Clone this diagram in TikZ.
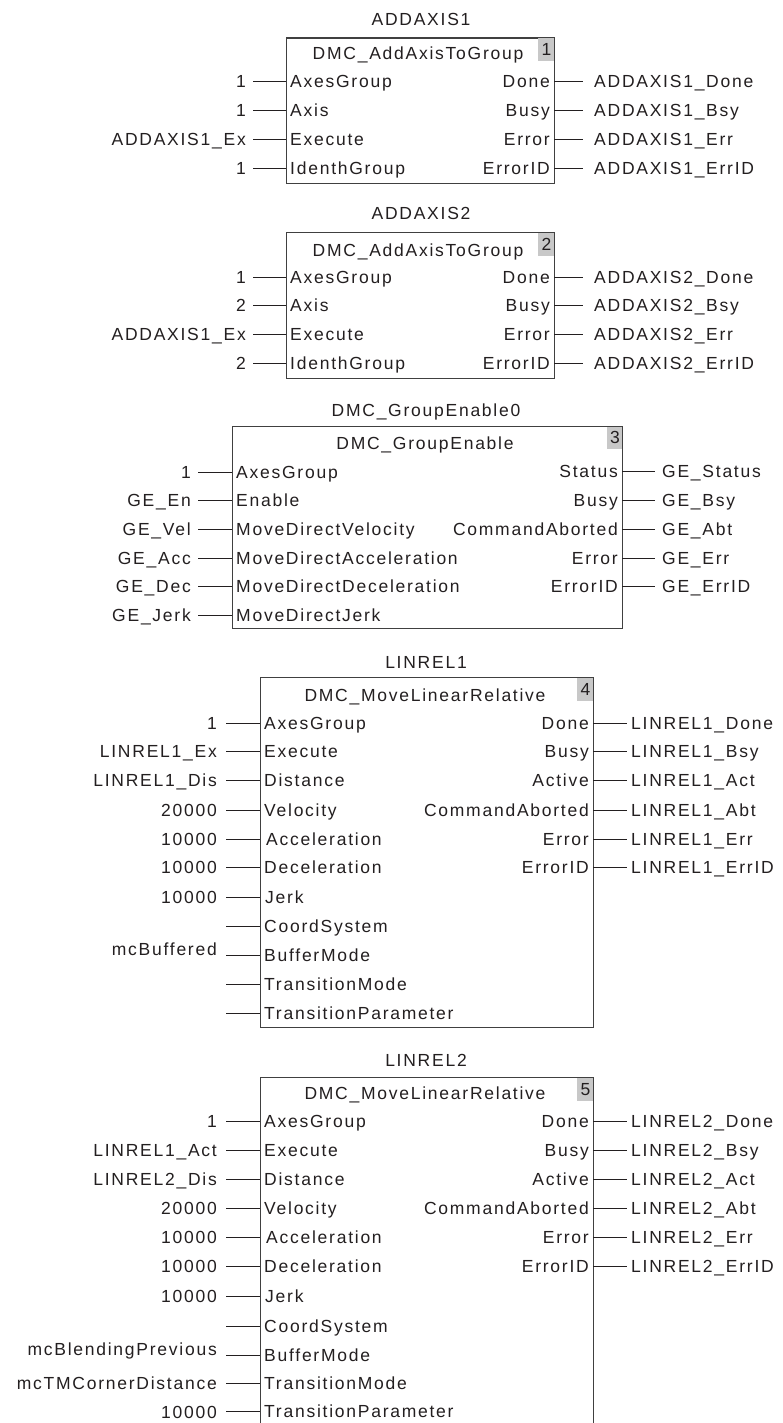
\documentclass[tikz,border=0pt]{standalone}
\usepackage{fontspec}
\newfontfamily\fbfam{Liberation Sans}[LetterSpace=10]
\newcommand\fbf{\fbfam\fontsize{17.5pt}{20pt}\selectfont}
\definecolor{ink}{RGB}{35,31,32}
\definecolor{edge}{RGB}{64,64,64}
\definecolor{numgray}{RGB}{200,200,200}
\tikzset{
 txt/.style={font=\fbf, text=ink, inner ysep=0pt, inner xsep=0pt, text height=12.5pt, text depth=0pt},
 pinL/.style={txt, inner xsep=4pt, anchor=west},
 pinR/.style={txt, inner xsep=4pt, anchor=east},
 extL/.style={txt, inner xsep=\gIn, anchor=east},
 extR/.style={txt, inner xsep=\gOut, anchor=west},
 wire/.style={draw=ink, line width=0.9pt},
 fbox/.style={draw=edge, line width=1.3pt, inner sep=0pt, anchor=north west},
 numbox/.style={fill=numgray, inner sep=0pt, minimum width=16pt, minimum height=23pt, font=\fbf, text=ink, anchor=north east},
}
\newcommand\fbIn[5]{%
 \node[pinL] (#1p) at (\bL,#2) {#3};
 \node[extL] (#1x) at (\xIn,#5) {#4};
 \draw[wire] (#1x.east |- #1p.west) -- (#1p.west);}
\newcommand\fbInE[3]{%
 \node[pinL] (#1p) at (\bL,#2) {#3};
 \coordinate (#1x) at (\xIn,#2);
 \draw[wire] (#1x) -- (#1p.west);}
\newcommand\fbOut[4]{%
 \node[pinR] (#1p) at (\bR,#2) {#3};
 \node[extR] (#1x) at (\xOut,#2) {#4};
 \draw[wire] (#1p.east) -- (#1x.west);}
\begin{document}
\begin{tikzpicture}[x=1pt,y=-1pt]
\useasboundingbox[fill=white] (0,0) rectangle (783,1423);
% ---------- Block 1
\def\bL{286}\def\bR{554}\def\xIn{253}\def\xOut{583}\def\gIn{7pt}\def\gOut{11pt}
\node[fbox, minimum width=268pt, minimum height=145.5pt] (A) at (286,37.5) {};
\node[numbox] (An) at ([xshift=-0.65pt,yshift=-0.65pt]A.north east) {1};
\node[txt] (At) at (421,19) {ADDAXIS1};
\node[txt] (Ah) at (418,53) {DMC\_AddAxisToGroup};
\fbIn{Ai1}{81}{AxesGroup}{1}{81}
\fbIn{Ai2}{110}{Axis}{1}{110}
\fbIn{Ai3}{139}{Execute}{ADDAXIS1\_Ex}{139}
\fbIn{Ai4}{168}{IdenthGroup}{1}{168}
\fbOut{Ao1}{81}{Done}{ADDAXIS1\_Done}
\fbOut{Ao2}{110}{Busy}{ADDAXIS1\_Bsy}
\fbOut{Ao3}{139}{Error}{ADDAXIS1\_Err}
\fbOut{Ao4}{168}{ErrorID}{ADDAXIS1\_ErrID}
% ---------- Block 2
\node[fbox, minimum width=268pt, minimum height=146pt] (B) at (286,232) {};
\node[numbox] (Bn) at ([xshift=-0.65pt,yshift=-0.65pt]B.north east) {2};
\node[txt] (Bt) at (421,213) {ADDAXIS2};
\node[txt] (Bh) at (418,250) {DMC\_AddAxisToGroup};
\fbIn{Bi1}{277}{AxesGroup}{1}{277}
\fbIn{Bi2}{305}{Axis}{2}{305}
\fbIn{Bi3}{334}{Execute}{ADDAXIS1\_Ex}{334}
\fbIn{Bi4}{363}{IdenthGroup}{2}{363}
\fbOut{Bo1}{277}{Done}{ADDAXIS2\_Done}
\fbOut{Bo2}{305}{Busy}{ADDAXIS2\_Bsy}
\fbOut{Bo3}{334}{Error}{ADDAXIS2\_Err}
\fbOut{Bo4}{363}{ErrorID}{ADDAXIS2\_ErrID}
% ---------- Block 3
\def\bL{232}\def\bR{622}\def\xIn{198}\def\xOut{655}\def\gIn{7pt}\def\gOut{7pt}
\node[fbox, minimum width=390pt, minimum height=202pt] (C) at (232,426) {};
\node[numbox, minimum width=15pt, minimum height=22pt] (Cn) at ([xshift=-0.65pt,yshift=-0.65pt]C.north east) {3};
\node[txt] (Ct) at (426,410) {DMC\_GroupEnable0};
\node[txt] (Ch) at (425,443) {DMC\_GroupEnable};
\fbIn{Ci1}{472}{AxesGroup}{1}{472}
\fbIn{Ci2}{500}{Enable}{GE\_En}{500}
\fbIn{Ci3}{529}{MoveDirectVelocity}{GE\_Vel}{529}
\fbIn{Ci4}{558}{MoveDirectAcceleration}{GE\_Acc}{558}
\fbIn{Ci5}{586}{MoveDirectDeceleration}{GE\_Dec}{586}
\fbIn{Ci6}{615}{MoveDirectJerk}{GE\_Jerk}{615}
\fbOut{Co1}{471}{Status}{GE\_Status}
\fbOut{Co2}{500}{Busy}{GE\_Bsy}
\fbOut{Co3}{529}{CommandAborted}{GE\_Abt}
\fbOut{Co4}{558}{Error}{GE\_Err}
\fbOut{Co5}{586}{ErrorID}{GE\_ErrID}
% ---------- Block 4
\def\bL{260}\def\bR{593}\def\xIn{226}\def\xOut{627}\def\gIn{9pt}\def\gOut{4pt}
\node[fbox, minimum width=333pt, minimum height=350pt] (D) at (260,677) {};
\node[numbox] (Dn) at ([xshift=-0.65pt,yshift=-0.65pt]D.north east) {4};
\node[txt] (Dt) at (426,662) {LINREL1};
\node[txt] (Dh) at (425,695) {DMC\_MoveLinearRelative};
\fbIn{Di1}{723}{AxesGroup}{1}{723}
\fbIn{Di2}{751}{Execute}{LINREL1\_Ex}{751}
\fbIn{Di3}{780}{Distance}{LINREL1\_Dis}{780}
\fbIn{Di4}{810}{Velocity}{20000}{810}
\fbIn{Di5}{839}{\hspace{2pt}Acceleration}{10000}{839}
\fbIn{Di6}{867}{Deceleration}{10000}{867}
\fbIn{Di7}{897}{\hspace{1pt}Jerk}{10000}{897}
\fbInE{Di8}{926}{CoordSystem}
\fbIn{Di9}{955}{BufferMode}{mcBuffered}{949}
\fbInE{Di10}{984}{TransitionMode}
\fbInE{Di11}{1013}{TransitionParameter}
\fbOut{Do1}{723}{Done}{LINREL1\_Done}
\fbOut{Do2}{751}{Busy}{LINREL1\_Bsy}
\fbOut{Do3}{780}{Active}{LINREL1\_Act}
\fbOut{Do4}{810}{CommandAborted}{LINREL1\_Abt}
\fbOut{Do5}{839}{Error}{LINREL1\_Err}
\fbOut{Do6}{867}{ErrorID}{LINREL1\_ErrID}
% ---------- Block 5
\node[fbox, minimum width=333pt, minimum height=370pt] (E) at (260,1077) {};
\node[numbox] (En) at ([xshift=-0.65pt,yshift=-0.65pt]E.north east) {5};
\node[txt] (Et) at (426,1060) {LINREL2};
\node[txt] (Eh) at (425,1093) {DMC\_MoveLinearRelative};
\fbIn{Ei1}{1121}{AxesGroup}{1}{1121}
\fbIn{Ei2}{1150}{Execute}{LINREL1\_Act}{1150}
\fbIn{Ei3}{1179}{Distance}{LINREL2\_Dis}{1179}
\fbIn{Ei4}{1208}{Velocity}{20000}{1208}
\fbIn{Ei5}{1237}{\hspace{2pt}Acceleration}{10000}{1237}
\fbIn{Ei6}{1266}{Deceleration}{10000}{1266}
\fbIn{Ei7}{1296}{\hspace{1pt}Jerk}{10000}{1296}
\fbInE{Ei8}{1326}{CoordSystem}
\fbIn{Ei9}{1355}{BufferMode}{mcBlendingPrevious}{1349}
\fbIn{Ei10}{1383}{TransitionMode}{mcTMCornerDistance}{1383}
\fbIn{Ei11}{1411}{TransitionParameter}{10000}{1412}
\fbOut{Eo1}{1121}{Done}{LINREL2\_Done}
\fbOut{Eo2}{1150}{Busy}{LINREL2\_Bsy}
\fbOut{Eo3}{1179}{Active}{LINREL2\_Act}
\fbOut{Eo4}{1208}{CommandAborted}{LINREL2\_Abt}
\fbOut{Eo5}{1237}{Error}{LINREL2\_Err}
\fbOut{Eo6}{1266}{ErrorID}{LINREL2\_ErrID}
\end{tikzpicture}
\end{document}
